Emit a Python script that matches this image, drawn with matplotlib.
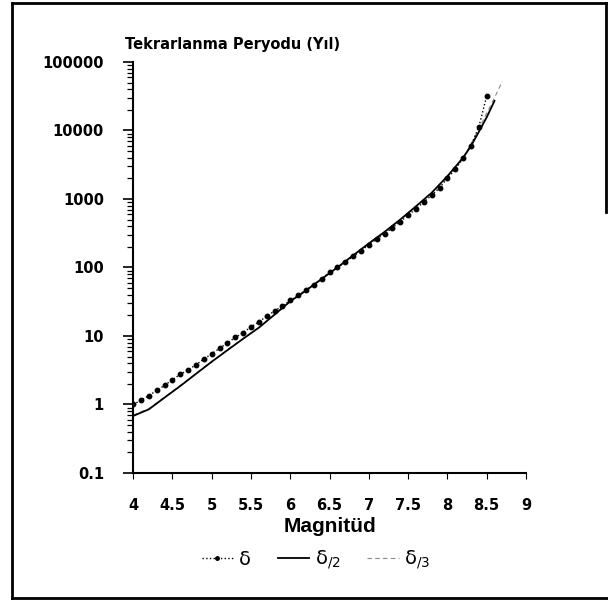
import numpy as np
import matplotlib
matplotlib.use("Agg")
import matplotlib.pyplot as plt
from matplotlib import ticker
from matplotlib.lines import Line2D

# magnitude steps and return periods (years)
mag_d = [4.0, 4.1, 4.2, 4.3, 4.4, 4.5, 4.6, 4.7, 4.8, 4.9,
         5.0, 5.1, 5.2, 5.3, 5.4, 5.5, 5.6, 5.7, 5.8, 5.9,
         6.0, 6.1, 6.2, 6.3, 6.4, 6.5, 6.6, 6.7, 6.8, 6.9,
         7.0, 7.1, 7.2, 7.3, 7.4, 7.5, 7.6, 7.7, 7.8, 7.9,
         8.0, 8.1, 8.2, 8.3, 8.4, 8.5]
per_d = [1.0, 1.15, 1.35, 1.6, 1.9, 2.3, 2.75, 3.2, 3.8, 4.6,
         5.5, 6.6, 7.9, 9.5, 11.2, 13.5, 16, 19.5, 23, 27.5,
         33, 39, 47, 56, 68, 85, 100, 120, 145, 175,
         214, 260, 310, 380, 465, 575, 720, 900, 1130, 1450,
         2000, 2700, 3900, 6000, 11200, 31600]

mag_d2 = [4.0, 4.2, 4.4, 4.6, 4.8, 5.0, 5.2, 5.4, 5.6, 5.8,
          6.0, 6.2, 6.4, 6.6, 6.8, 7.0, 7.2, 7.4, 7.6, 7.8,
          8.0, 8.2, 8.3, 8.4, 8.5, 8.6]
per_d2 = [0.68, 0.85, 1.26, 1.86, 2.8, 4.2, 6.2, 9.1, 13.2, 20.5,
          32, 46, 68, 100, 150, 224, 330, 500, 780, 1230,
          2140, 4000, 5900, 9500, 15500, 27000]

mag_d3 = [4.0, 4.2, 4.4, 4.6, 4.8, 5.0, 5.2, 5.4, 5.6, 5.8,
          6.0, 6.2, 6.4, 6.6, 6.8, 7.0, 7.2, 7.4, 7.6, 7.8,
          8.0, 8.2, 8.3, 8.4, 8.5, 8.6, 8.7]
per_d3 = [0.7, 0.87, 1.28, 1.9, 2.85, 4.25, 6.3, 9.2, 13.4, 20.5,
          32, 46, 68, 100, 150, 224, 330, 500, 780, 1230,
          2140, 4000, 6300, 10500, 17800, 30000, 52000]

x_ticks = [4, 4.5, 5, 5.5, 6, 6.5, 7, 7.5, 8, 8.5, 9]
y_ticks = [0.1, 1, 10, 100, 1000, 10000, 100000]

fig = plt.figure(figsize=(6.08, 6.01), dpi=100)
ax = fig.add_axes([0.219, 0.213, 0.646, 0.684])

ax.plot(mag_d3, per_d3, color="#8a8a8a", lw=0.8, ls=(0, (4, 3)), zorder=2)
ax.plot(mag_d2, per_d2, color="black", lw=1.3, zorder=3)
ax.plot(mag_d, per_d, color="black", lw=1.0, ls=":", marker="o", ms=3.2,
        zorder=4)

ax.set_yscale("log")
ax.set_xlim(4, 9)
ax.set_ylim(0.1, 100000)
ax.set_xticks(x_ticks)
ax.set_yticks(y_ticks)
ax.xaxis.set_major_formatter(ticker.FuncFormatter(lambda v, _: f"{v:g}"))
ax.yaxis.set_major_formatter(ticker.FuncFormatter(lambda v, _: f"{v:g}"))
ax.yaxis.set_minor_locator(ticker.LogLocator(base=10, subs=np.arange(2, 10)))
ax.yaxis.set_minor_formatter(ticker.NullFormatter())

for s in ["top", "right"]:
    ax.spines[s].set_visible(False)
for s in ["left", "bottom"]:
    ax.spines[s].set_linewidth(1.5)

tfont = dict(family="DejaVu Sans", weight="bold", size=10.5)
ax.tick_params(axis="y", which="major", length=7, width=1.2, pad=14)
ax.tick_params(axis="y", which="minor", length=4, width=0.9)
ax.tick_params(axis="x", which="major", length=4, width=0.8, pad=14)
for lab in ax.get_xticklabels() + ax.get_yticklabels():
    lab.set_fontproperties(matplotlib.font_manager.FontProperties(**tfont))

ax.set_xlabel("Magnitüd", family="Liberation Sans", weight="bold",
              size=15, labelpad=3)
fig.text(125 / 608, 1 - 45 / 601, "Tekrarlanma Peryodu (Yıl)",
         ha="left", va="center", **tfont)

handles = [
    Line2D([], [], color="black", lw=1.0, ls=":", marker="o", ms=2.5,
           markevery=[1]),
    Line2D([], [], color="black", lw=1.3),
    Line2D([], [], color="#8a8a8a", lw=0.8, ls=(0, (4, 3))),
]
labels = ["δ", "δ$_{/2}$", "δ$_{/3}$"]
fig.legend(handles, labels, loc="center", bbox_to_anchor=(0.52, 1 - 560 / 601),
           ncol=3, frameon=False, fontsize=14, handlelength=1.6,
           handletextpad=0.3, columnspacing=1.4)

# scanned page frame
W, H = 608, 601
def px(x, y):
    return x / W, 1 - y / H
for (x0, y0), (x1, y1) in [((12, 3), (12, 598)), ((12, 3), (606, 3)),
                           ((12, 598), (607, 598)), ((606, 3), (606, 212))]:
    a, b = px(x0, y0)
    c, d = px(x1, y1)
    fig.add_artist(Line2D([a, c], [b, d], color="black", lw=2.0))

fig.savefig("out.png", dpi=100, facecolor="white")
